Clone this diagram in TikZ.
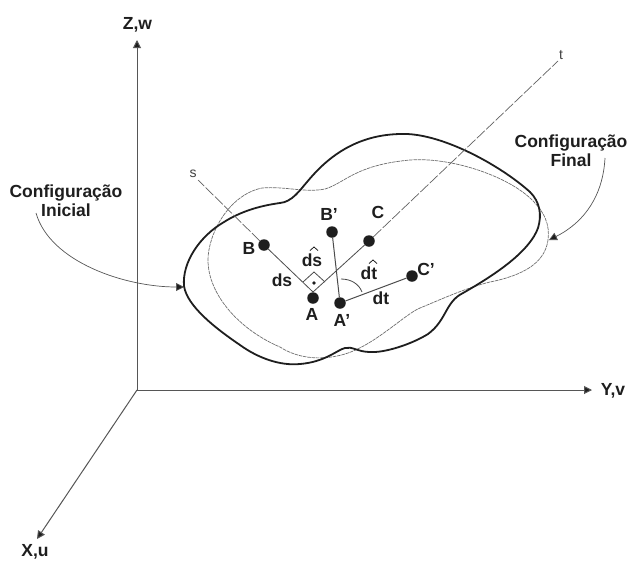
\documentclass[tikz,border=0pt]{standalone}
\usepackage{fontspec}
\setmainfont{Liberation Sans}
\usetikzlibrary{arrows.meta}
\definecolor{ink}{HTML}{1E1E1E}
\tikzset{
  lab/.style={font=\fontsize{17.5}{19}\selectfont\bfseries,text=ink,inner sep=0pt,align=center},
  thinlab/.style={font=\fontsize{14}{15}\selectfont,text=ink!85,inner sep=0pt},
  pt/.style={circle,fill=ink,draw=none,minimum size=11.5pt,inner sep=0pt},
  axis/.style={draw=ink!75,line width=1pt,-{Triangle[length=8pt,width=8pt,fill=ink]}},
  blob/.style={draw=ink,line width=1.8pt},
  oldblob/.style={draw=ink!65,line width=.7pt,dash pattern=on 3.5pt off .8pt},
  seg/.style={draw=ink!80,line width=.8pt},
  dashseg/.style={draw=ink!70,line width=.7pt,dash pattern=on 11pt off 2pt},
  callout/.style={draw=ink!75,line width=.7pt,-{Triangle[length=8pt,width=8pt,fill=ink]}},
  hat/.style={draw=ink,line width=.8pt}
}
\begin{document}
\begin{tikzpicture}[x=1pt,y=-1pt]
\useasboundingbox (0,0) rectangle (631,560);
% blobs
\draw[oldblob] (208,260) .. controls (208,235) and (228,195) .. (262,188)
  .. controls (285,186) and (305,193) .. (325,189)
  .. controls (345,183) and (355,165) .. (410,160)
  .. controls (450,157) and (505,175) .. (530,198)
  .. controls (545,212) and (550,225) .. (548,240)
  .. controls (545,262) and (525,275) .. (490,282)
  .. controls (465,288) and (435,302) .. (420,308)
  .. controls (405,314) and (375,345) .. (345,354)
  .. controls (325,360) and (300,360) .. (280,347)
  .. controls (240,330) and (208,295) .. (208,260) -- cycle;
\draw[blob] (184,286) .. controls (182,262) and (200,236) .. (224,222)
  .. controls (240,212) and (258,206) .. (280,203)
  .. controls (292,202) and (300,190) .. (307,182)
  .. controls (322,164) and (350,135) .. (400,134)
  .. controls (440,132) and (500,165) .. (530,192)
  .. controls (540,202) and (542,215) .. (538,228)
  .. controls (530,250) and (500,272) .. (463,293)
  .. controls (445,302) and (447,320) .. (428,334)
  .. controls (412,344) and (385,353) .. (370,352)
  .. controls (358,352) and (352,346) .. (345,348)
  .. controls (337,350) and (325,362) .. (300,364)
  .. controls (280,366) and (258,358) .. (240,345)
  .. controls (215,328) and (187,306) .. (184,286) -- cycle;
% axes
\coordinate (O) at (137,390);
\coordinate (Ztip) at (137,40);
\coordinate (Ytip) at (592,390);
\coordinate (Xtip) at (37,539);
\draw[axis] (O) -- (Ztip);
\draw[axis] (O) -- (Ytip);
\draw[axis] (O) -- (Xtip);
\node[lab] (Zl) at (137.5,25) {Z,w};
\node[lab] (Yl) at (613,391) {Y,v};
\node[lab] (Xl) at (35,552) {X,u};
% points
\node[pt] (A) at (313,298) {};
\node[pt] (Ap) at (340,303) {};
\node[pt] (B) at (264,245) {};
\node[pt] (Bp) at (332,232) {};
\node[pt] (C) at (369,241) {};
\node[pt] (Cp) at (412,276) {};
\coordinate (V) at (313,292);
\coordinate (Dt) at (314,272);
\coordinate (Dr) at (325,282);
\coordinate (Dl) at (303,282);
\coordinate (Send) at (198,180);
\coordinate (Tend) at (558,61);
\draw[seg] (B) -- (V) -- (C);
\draw[seg] (Dl) -- (Dt) -- (Dr);
\fill[ink] (314,283) circle (1.9pt);
\draw[seg,line width=1pt] (Ap) -- (Bp);
\draw[seg,line width=1pt] (Ap) -- (Cp);
\draw[seg] (341,279) .. controls (351,279) and (359,284) .. (362,292);
\draw[dashseg] (B) -- (Send);
\draw[dashseg] (C) -- (Tend);
% labels
\node[thinlab] (sl) at (193,174) {s};
\node[thinlab] (tl) at (561,55) {t};
\node[lab] (Bl) at (249,248) {B};
\node[lab] (Bpl) at (329,214) {B’};
\node[lab] (Cl) at (378,212) {C};
\node[lab] (Cpl) at (426,269) {C’};
\node[lab] (Al) at (312,314) {A};
\node[lab] (Apl) at (342,320) {A’};
\node[lab] (dsl) at (282,280) {ds};
\node[lab] (dtl) at (381,298) {dt};
\node[lab] (dsh) at (312,260) {ds};
\node[lab] (dth) at (369,273) {dt};
\draw[hat] (314,247) ++(-4,3.5) -- ++(4,-3.5) -- ++(4,3.5);
\draw[hat] (373,260) ++(-4,3.5) -- ++(4,-3.5) -- ++(4,3.5);
\node[lab] (Ini) at (66,201) {Configuração\\Inicial};
\node[lab] (Fin) at (571,151) {Configuração\\Final};
\coordinate (IniS) at (36,213);
\coordinate (IniE) at (184,287);
\coordinate (FinS) at (605,158);
\coordinate (FinE) at (549,240);
\draw[callout] (IniS) .. controls (50,262) and (125,287) .. (IniE);
\draw[callout] (FinS) .. controls (603,195) and (585,222) .. (FinE);
\end{tikzpicture}
\end{document}
